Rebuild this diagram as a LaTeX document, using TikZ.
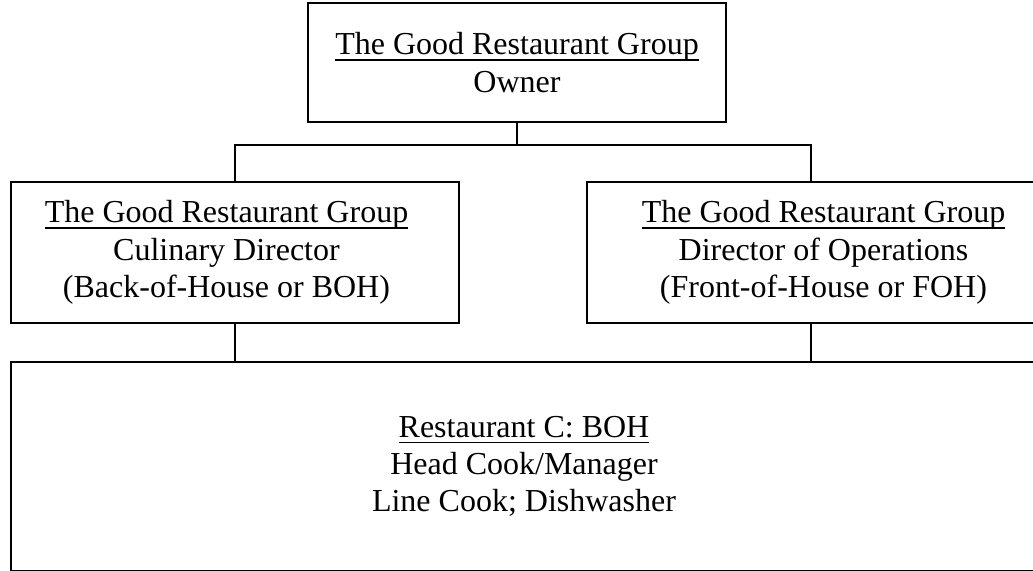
\documentclass[tikz,border=0pt]{standalone}
\usepackage{fontspec}
\setmainfont{Liberation Serif}
\newcommand\myul[1]{\setbox0\hbox{#1}\rlap{\rule[-3pt]{\wd0}{0.9pt}}\box0}
\tikzset{
  orgbox/.style={draw=black, line width=0.9pt, inner sep=0pt},
  orgtext/.style={align=center, inner sep=0pt,
    font=\fontsize{16pt}{18.6pt}\selectfont},
  conn/.style={draw=black, line width=0.55pt}
}
\begin{document}
\begin{tikzpicture}[x=0.5pt, y=-0.5pt]
\useasboundingbox (0,0) rectangle (1033,571);
\node[orgbox, orgtext, minimum width=209pt, minimum height=59.5pt] (top) at (517,62.5)
  {\myul{The Good Restaurant Group}\\Owner};
\node[orgbox, minimum width=224pt, minimum height=70.5pt] (left) at (235,252.5) {};
\node[orgtext] (lefttext) at (226.5,252.5)
  {\myul{The Good Restaurant Group}\\Culinary Director\\(Back-of-House or BOH)};
\node[orgbox, minimum width=224pt, minimum height=70.5pt] (right) at (811,252.5) {};
\node[orgtext] (righttext) at (823.5,252.5)
  {\myul{The Good Restaurant Group}\\Director of Operations\\(Front-of-House or FOH)};
\node[orgbox, orgtext, minimum width=513pt, minimum height=104.5pt] (bottom) at (524,466.5)
  {\myul{Restaurant C: BOH}\\Head Cook/Manager\\Line Cook; Dishwasher};
\coordinate (j) at (517,145);
\draw[conn] (top.south) -- (j);
\draw[conn] (left.north) |- (j) -| (right.north);
\draw[conn] (left.south) -- (left.south |- bottom.north);
\draw[conn] (right.south) -- (right.south |- bottom.north);
\end{tikzpicture}
\end{document}
